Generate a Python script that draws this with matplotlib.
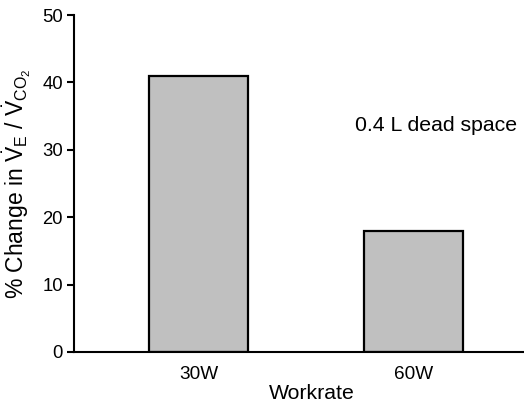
import matplotlib
matplotlib.use("Agg")
import matplotlib.pyplot as plt

plt.rcParams['font.family'] = ['Liberation Sans', 'DejaVu Sans']
plt.rcParams['mathtext.fontset'] = 'custom'
plt.rcParams['mathtext.rm'] = 'Liberation Sans'
plt.rcParams['mathtext.it'] = 'Liberation Sans:italic'
plt.rcParams['mathtext.bf'] = 'Liberation Sans:bold'

# Data
workrates = ["30W", "60W"]
pct_change = [41, 18]
y_ticks = [0, 10, 20, 30, 40, 50]

fig = plt.figure(figsize=(5.24, 4.04), dpi=100)
ax = fig.add_axes([74 / 524, 52 / 404, 450 / 524, 337 / 404])

x = list(range(len(workrates)))
ax.bar(x, pct_change, width=0.46, color="#c0c0c0", edgecolor="black", linewidth=1.6)

ax.set_xlim(-0.579, 1.514)
ax.set_ylim(0, 50)
ax.set_yticks(y_ticks)
ax.set_xticks(x)
ax.set_xticklabels(workrates)

for side in ("top", "right"):
    ax.spines[side].set_visible(False)
for side in ("left", "bottom"):
    ax.spines[side].set_linewidth(1.5)

ax.tick_params(axis="y", direction="out", length=5, width=1.5, labelsize=13.3, pad=3)
ax.tick_params(axis="x", length=0, labelsize=13.7, pad=10)

ax.set_xlabel("Workrate", fontsize=15.3)
ax.xaxis.set_label_coords(0.529, -0.095)
ax.set_ylabel(r"% Change in $\dot{\mathrm{V}}_{\mathrm{E}}$ / $\dot{\mathrm{V}}_{\mathrm{CO}_2}$",
              fontsize=16.5)
ax.yaxis.set_label_coords(-0.091, 0.5)

ax.text(1.4815, 33.6, "0.4 L dead space", fontsize=15.3, ha="right", va="center")

fig.savefig("out.png", dpi=100)
